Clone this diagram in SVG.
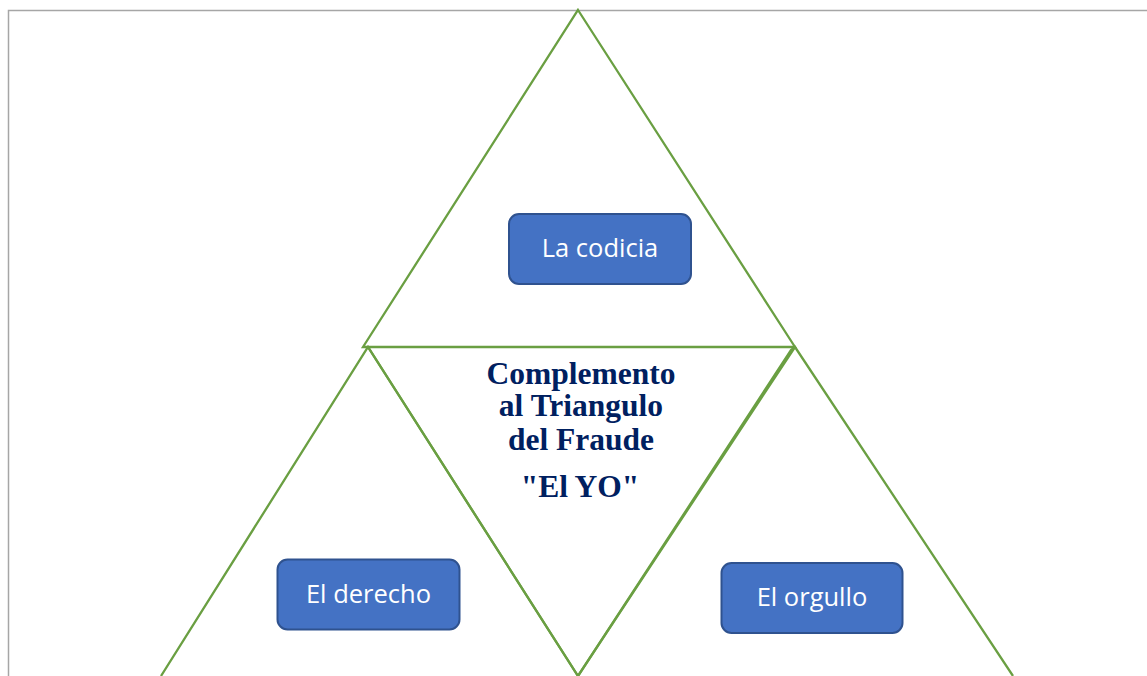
<svg xmlns="http://www.w3.org/2000/svg" width="1147" height="676" viewBox="0 0 1147 676">
<style>
.frame{fill:none;stroke:#A6A6A6;stroke-width:1.5}
.tri{fill:none;stroke:#6A9F42;stroke-width:2.3;stroke-linejoin:miter}
.box{fill:#4472C4;stroke:#2F528F;stroke-width:2}
.lbl{font-family:"Open Sans","Noto Sans",sans-serif;font-size:25.5px;fill:#FFFFFF;text-anchor:middle}
.ctr{font-family:"Liberation Serif","Times New Roman",serif;font-weight:bold;font-size:31.5px;fill:#002060;text-anchor:middle}
</style>
<rect width="1147" height="676" fill="#FFFFFF"/>
<path class="frame" d="M8.5,676 V10.5 H1147"/>
<g id="connectors">
<polygon id="top-triangle" class="tri" points="578,10 795,347 363,347"/>
<polyline id="left-triangle" class="tri" points="161,676 368,347 578,676"/>
<polyline id="center-triangle" class="tri" points="368,347 578,676 795,347"/>
<polyline id="right-triangle" class="tri" points="578,676 791,350 795,347 1013,676"/>
</g>
<g id="node-codicia">
<rect class="box" x="509" y="214" width="182" height="70" rx="10"/>
<text class="lbl" x="600" y="257">La codicia</text>
</g>
<g id="node-derecho">
<rect class="box" x="277.5" y="559.5" width="182" height="70" rx="10"/>
<text class="lbl" x="368.5" y="603">El derecho</text>
</g>
<g id="node-orgullo">
<rect class="box" x="721.5" y="563" width="181" height="70" rx="10"/>
<text class="lbl" x="812" y="606">El orgullo</text>
</g>
<g id="node-center">
<text class="ctr" x="581" y="384">Complemento</text>
<text class="ctr" x="581" y="416">al Triangulo</text>
<text class="ctr" x="581" y="450">del Fraude</text>
<text class="ctr" x="580" y="497">"El YO"</text>
</g>
</svg>
